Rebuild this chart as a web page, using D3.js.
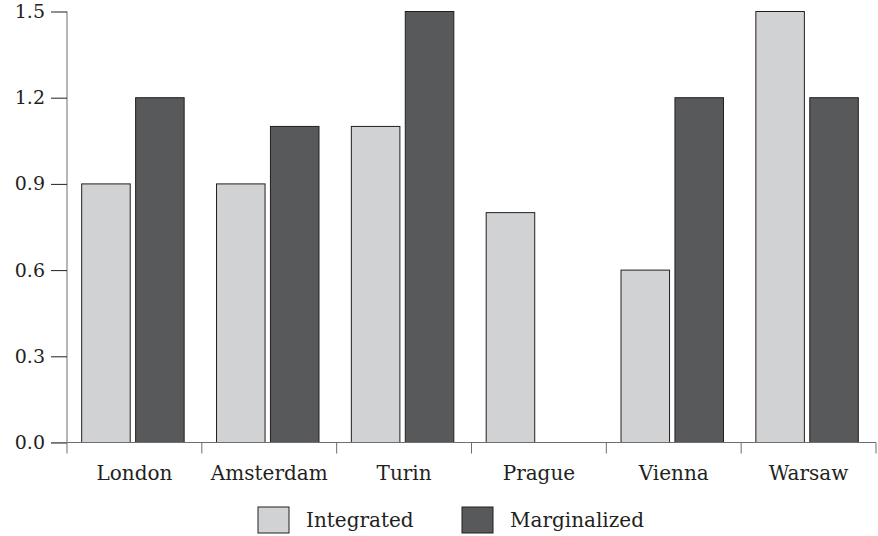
<!DOCTYPE html>
<html>
<head>
<meta charset="utf-8">
<script src="https://cdn.jsdelivr.net/npm/d3@7"></script>
<style>
  body { margin: 0; background: #fff; }
  text { font-family: "DejaVu Serif", serif; fill: #231f20; }
</style>
</head>
<body>
<div id="chart"></div>
<script>
// data
var cities = ["London", "Amsterdam", "Turin", "Prague", "Vienna", "Warsaw"];
var groups = ["Integrated", "Marginalized"];
var integrated = [0.9, 0.9, 1.1, 0.8, 0.6, 1.5];
var marginalized = [1.2, 1.1, 1.5, 0, 1.2, 1.2];
var yTicks = [0, 0.3, 0.6, 0.9, 1.2, 1.5];

var w = 878, h = 536;
var colors = ["#d1d2d4", "#58595b"];

var svg = d3.select("#chart").append("svg")
  .attr("width", w)
  .attr("height", h);

var x = d3.scaleBand().domain(cities).range([67, 876]);
var x1 = d3.scaleBand().domain(groups).range([0, x.bandwidth()])
  .paddingOuter(0.3).paddingInner(0.1);
var y = d3.scaleLinear().domain([0, 1.5]).range([442.5, 11.5]);

var rows = cities.map(function(c, i) {
  return {city: c, values: [integrated[i], marginalized[i]]};
});

// bars (Prague has no marginalized bar)
var g = svg.append("g").selectAll("g")
  .data(rows)
  .enter().append("g")
    .attr("transform", function(d) { return "translate(" + (x(d.city) - 1.5) + ",0)"; });

g.selectAll("rect")
  .data(function(d) {
    return groups.map(function(k, i) { return {key: k, v: d.values[i], i: i}; })
      .filter(function(b) { return b.v > 0; });
  })
  .enter().append("rect")
    .attr("x", function(d) { return x1(d.key); })
    .attr("y", function(d) { return y(d.v); })
    .attr("width", x1.bandwidth())
    .attr("height", function(d) { return y(0) - y(d.v); })
    .attr("fill", function(d) { return colors[d.i]; })
    .attr("stroke", "#231f20")
    .attr("stroke-width", 1);

// y axis
var yAxis = svg.append("g")
  .attr("transform", "translate(67,0)")
  .call(d3.axisLeft(y).tickValues(yTicks).tickFormat(d3.format(".1f")).tickSize(16).tickPadding(6));
yAxis.select(".domain").attr("d", "M0," + y(1.5) + "V" + y(0)).attr("stroke", "#6d6e70");
yAxis.selectAll(".tick line").attr("stroke", "#231f20");
yAxis.selectAll("text").style("font-size", "19px").attr("fill", "#231f20");

// x axis
var xAxis = svg.append("g")
  .attr("transform", "translate(0," + y(0) + ")");
xAxis.append("line")
  .attr("x1", 51).attr("x2", 876)
  .attr("stroke", "#6d6e70");
var bounds = cities.map(function(c) { return x(c); }).concat([x.range()[1]]);
xAxis.selectAll(".xt")
  .data(bounds)
  .enter().append("line")
    .attr("class", "xt")
    .attr("x1", function(d) { return d; })
    .attr("x2", function(d) { return d; })
    .attr("y1", 0).attr("y2", 11)
    .attr("stroke", "#6d6e70");
xAxis.selectAll(".xl")
  .data(cities)
  .enter().append("text")
    .attr("x", function(d) { return x(d) + x.bandwidth() / 2; })
    .attr("y", 37)
    .attr("text-anchor", "middle")
    .style("font-size", "20px")
    .text(function(d) { return d; });

// legend
var legendX = [258, 462];
var lg = svg.append("g").selectAll("g")
  .data(groups)
  .enter().append("g")
    .attr("transform", function(d, i) { return "translate(" + legendX[i] + ",507)"; });
lg.append("rect")
  .attr("width", 31).attr("height", 26)
  .attr("fill", function(d, i) { return colors[i]; })
  .attr("stroke", "#231f20");
lg.append("text")
  .attr("x", 48).attr("y", 20)
  .style("font-size", "20px")
  .text(function(d) { return d; });
</script>
</body>
</html>
